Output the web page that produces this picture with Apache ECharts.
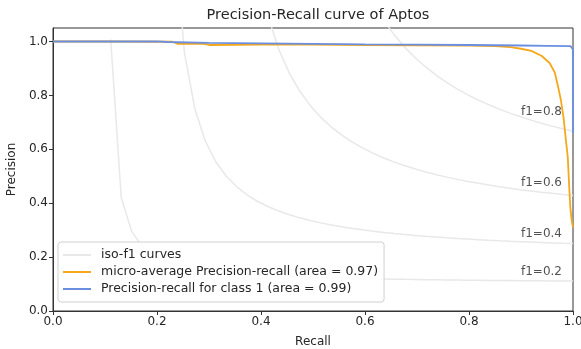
<!DOCTYPE html>
<html>
<head>
<meta charset="utf-8">
<script src="https://cdn.jsdelivr.net/npm/echarts@6/dist/echarts.min.js"></script>
<style>
  html, body { margin: 0; padding: 0; background: #ffffff; }
  #chart { width: 581px; height: 349px; }
</style>
</head>
<body>
<div id="chart"></div>
<script>
// Chart text
const titleText = 'Precision-Recall curve of Aptos';
const xName = 'Recall';
const yName = 'Precision';

// Tick positions on both axes
const xTicks = [0, 0.2, 0.4, 0.6, 0.8, 1.0];
const yTicks = [0, 0.2, 0.4, 0.6, 0.8, 1.0];

// F1 levels of the reference iso-f1 curves
const f1Levels = [0.2, 0.4, 0.6, 0.8];

// Micro-averaged precision-recall curve
const microRecall = [0.0, 0.10, 0.23, 0.24, 0.29, 0.30, 0.40, 0.50, 0.60, 0.70, 0.80, 0.85, 0.88, 0.90, 0.92, 0.94, 0.955, 0.965, 0.971, 0.977, 0.982, 0.986, 0.990, 0.993, 0.995, 0.998, 1.0];
const microPrecision = [1.0, 1.0, 0.999, 0.991, 0.991, 0.987, 0.988, 0.988, 0.987, 0.986, 0.985, 0.983, 0.979, 0.973, 0.965, 0.946, 0.920, 0.885, 0.835, 0.780, 0.715, 0.640, 0.570, 0.450, 0.380, 0.330, 0.310];
const microArea = 0.97;

// Class 1 precision-recall curve
const class1Recall = [0.0, 0.20, 0.22, 0.30, 0.40, 0.50, 0.60, 0.70, 0.80, 0.90, 0.95, 0.995, 1.0, 1.0];
const class1Precision = [1.0, 1.0, 0.998, 0.995, 0.993, 0.991, 0.989, 0.988, 0.987, 0.985, 0.984, 0.983, 0.970, 0.660];
const class1Area = 0.99;

const FONT = 'DejaVu Sans';
const TEXT = '#262626';
const ISO_COLOR = '#e8e8e8';
const MICRO_COLOR = '#f5a81c';
const CLASS_COLOR = '#6a8fe0';

const microName = 'micro-average Precision-recall (area = ' + microArea.toFixed(2) + ')';
const className = 'Precision-recall for class 1 (area = ' + class1Area.toFixed(2) + ')';

// Recall grid for the iso-f1 curves (50 points from 0.01 to 1)
const isoGrid = Array.from({ length: 50 }, (_, i) => 0.01 + i * (0.99 / 49));

const isoSeries = f1Levels.map(f => ({
  name: 'iso-f1 curves',
  type: 'line',
  symbol: 'none',
  silent: true,
  z: 1,
  lineStyle: { color: ISO_COLOR, width: 1.5 },
  itemStyle: { color: ISO_COLOR },
  data: isoGrid
    .map(r => [r, f * r / (2 * r - f)])
    .filter(p => p[1] >= 0)
}));

// Labels placed just above each iso-f1 curve near recall 0.9
const isoLabels = {
  type: 'scatter',
  symbolSize: 0,
  silent: true,
  z: 3,
  data: f1Levels.map(f => {
    const r = isoGrid[45];
    return { value: [0.9, f * r / (2 * r - f) + 0.02], f: f };
  }),
  label: {
    show: true,
    position: [0, 0],
    offset: [0, 3],
    align: 'left',
    verticalAlign: 'bottom',
    fontFamily: FONT,
    fontSize: 12,
    color: TEXT,
    formatter: p => 'f1=' + p.data.f.toFixed(1)
  }
};

const zip = (a, b) => a.map((v, i) => [v, b[i]]);

const option = {
  animation: false,
  backgroundColor: '#ffffff',
  title: {
    text: titleText,
    left: 313,
    textAlign: 'center',
    top: 3,
    textStyle: { fontFamily: FONT, fontSize: 14.5, fontWeight: 'normal', color: TEXT }
  },
  grid: {
    left: 53, right: 8, top: 28, bottom: 38,
    outerBoundsMode: 'none',
    containLabel: false,
    show: true, borderColor: '#333333', borderWidth: 1, backgroundColor: 'transparent'
  },
  legend: {
    orient: 'vertical',
    left: 58,
    top: 242,
    padding: [6, 6, 6, 5],
    itemGap: 3,
    itemWidth: 28,
    itemHeight: 2,
    icon: 'rect',
    backgroundColor: 'rgba(255,255,255,0.85)',
    borderColor: '#d0d0d0',
    borderWidth: 1,
    borderRadius: 3,
    textStyle: { fontFamily: FONT, fontSize: 12.5, color: TEXT, padding: [0, 0, 0, 5], lineHeight: 14 },
    data: ['iso-f1 curves', microName, className]
  },
  xAxis: {
    type: 'value',
    min: 0, max: 1, interval: 0.2,
    name: xName,
    nameLocation: 'middle',
    nameGap: 25,
    nameTextStyle: { fontFamily: FONT, fontSize: 12, color: TEXT },
    axisLine: { show: true, onZero: false, lineStyle: { color: '#333333', width: 1 } },
    axisTick: { show: true, length: 4, lineStyle: { color: '#333333' }, customValues: xTicks },
    axisLabel: {
      fontFamily: FONT, fontSize: 12, color: TEXT, margin: 5,
      customValues: xTicks,
      formatter: v => v.toFixed(1)
    },
    splitLine: { show: false }
  },
  yAxis: {
    type: 'value',
    min: 0, max: 1.05, interval: 0.2,
    name: yName,
    nameLocation: 'middle',
    nameGap: 30,
    nameRotate: 90,
    nameTextStyle: { fontFamily: FONT, fontSize: 12, color: TEXT },
    axisLine: { show: true, onZero: false, lineStyle: { color: '#333333', width: 1 } },
    axisTick: { show: true, length: 4, lineStyle: { color: '#333333' }, customValues: yTicks },
    axisLabel: {
      fontFamily: FONT, fontSize: 12, color: TEXT, margin: 5,
      customValues: yTicks,
      formatter: v => v.toFixed(1)
    },
    splitLine: { show: false }
  },
  series: [
    ...isoSeries,
    isoLabels,
    {
      name: microName,
      type: 'line',
      symbol: 'none',
      z: 4,
      lineStyle: { color: MICRO_COLOR, width: 1.8 },
      itemStyle: { color: MICRO_COLOR },
      data: zip(microRecall, microPrecision)
    },
    {
      name: className,
      type: 'line',
      symbol: 'none',
      z: 5,
      lineStyle: { color: CLASS_COLOR, width: 1.8 },
      itemStyle: { color: CLASS_COLOR },
      data: zip(class1Recall, class1Precision)
    }
  ]
};

const chart = echarts.init(document.getElementById('chart'), null, { renderer: 'canvas' });
chart.setOption(option);
</script>
</body>
</html>
